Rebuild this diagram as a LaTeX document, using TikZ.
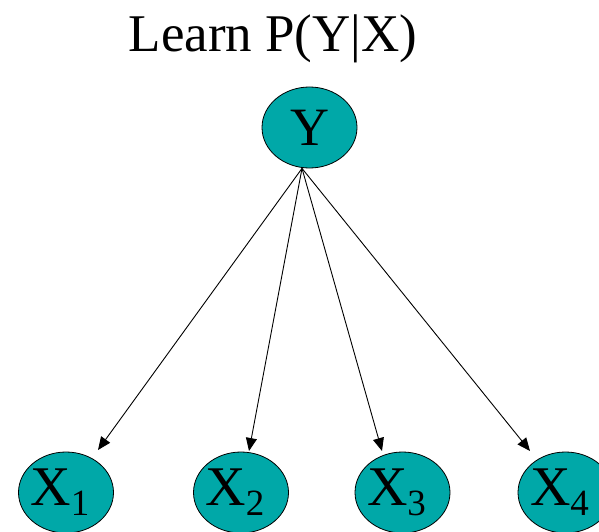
\documentclass[tikz,border=0pt]{standalone}
\usepackage{fontspec}
\setmainfont{Liberation Serif}
\usetikzlibrary{shapes.geometric,arrows.meta,calc}
\definecolor{tealfill}{RGB}{0,168,168}
\newcommand{\subsc}[1]{\raisebox{-10pt}{\smash{\fontsize{37}{37}\selectfont #1}}}
\tikzset{
  rv/.style={ellipse, draw=black, line width=0.8pt, fill=tealfill,
    minimum width=95pt, minimum height=81pt, inner sep=0pt,
    font=\fontsize{56}{56}\selectfont},
  edge/.style={line width=0.9pt, -{Triangle[length=13pt,width=11pt]}}
}
\begin{document}
\begin{tikzpicture}[x=1pt,y=-1pt]
\useasboundingbox (0,0) rectangle (599,532);
\clip (0,0) rectangle (599,532);
\node[anchor=base, font=\fontsize{53}{53}\selectfont] (title) at (273,52) {Learn P(Y|X)};
\node[rv, font=\fontsize{54}{54}\selectfont] (Y) at (309.5,127.5) {Y};
\node[rv] (X1) at (66,492.5) {\kern-12pt X\subsc{1}};
\node[rv] (X2) at (241,492.5) {\kern-12pt X\subsc{2}};
\node[rv] (X3) at (402.5,492.5) {\kern-12pt X\subsc{3}};
\node[rv] (X4) at (565.5,492.5) {\kern-12pt X\subsc{4}};
\coordinate (src) at ($(Y.south)+(-7.5,0)$);
\coordinate (t1) at ($(X1)+(32,-42.5)$);
\coordinate (t2) at ($(X2)+(8,-41.5)$);
\coordinate (t3) at ($(X3)+(-20.5,-41.5)$);
\coordinate (t4) at ($(X4)+(-35.5,-41.5)$);
\draw[edge] (src) -- (t1);
\draw[edge] (src) -- (t2);
\draw[edge] (src) -- (t3);
\draw[edge] (src) -- (t4);
\end{tikzpicture}
\end{document}
